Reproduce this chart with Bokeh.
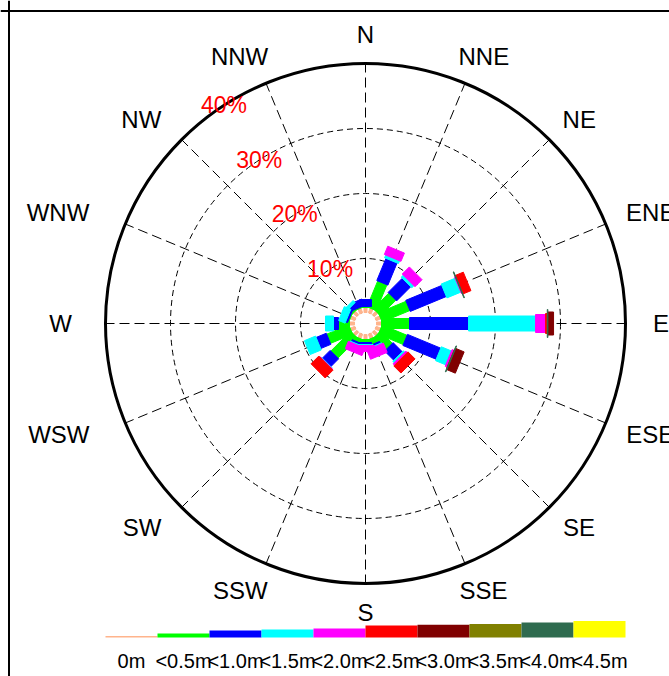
import numpy as np
from bokeh.plotting import figure
from bokeh.models import Range1d, Span, ColumnDataSource
from bokeh.embed import file_html
from bokeh.resources import INLINE
from bokeh.core.properties import value

# ---------------- data (percent of time) ----------------
directions = ["N", "NNE", "NE", "ENE", "E", "ESE", "SE", "SSE",
              "S", "SSW", "SW", "WSW", "W", "WNW", "NW", "NNW"]
bin_labels = ["0m", "<0.5m", "<1.0m", "<1.5m", "<2.0m",
              "<2.5m", "<3.0m", "<3.5m", "<4.0m", "<4.5m"]
bin_colors = ["#FFB48C", "#00FF00", "#0000FF", "#00FFFF", "#FF00FF",
              "#FF0000", "#800000", "#808000", "#2F6B4F", "#FFFF00"]

s_0m  = [0.77, 0.77, 0.77, 0.77, 0.77, 0.77, 0.77, 0.77, 0.77, 0.77, 0.77, 0.77, 0.77, 0.77, 0.77, 0.77]
s_05  = [0.15, 4.31, 3.38, 4.62, 4.31, 4.15, 2.62, 0.92, 0.46, 0.62, 4.31, 3.69, 1.69, 0.15, 0.31, 0.15]
s_10  = [1.08, 3.69, 3.08, 6.00, 9.08, 5.54, 2.00, 0.31, 0.31, 0.31, 1.69, 1.69, 0.77, 0.31, 0.62, 1.08]
s_15  = [0.00, 0.46, 0.46, 2.31, 10.31, 1.69, 0.31, 0.15, 0.15, 0.15, 0.08, 1.85, 1.23, 1.08, 0.46, 0.00]
s_20  = [0.00, 1.38, 1.54, 0.15, 1.54, 0.31, 0.31, 1.54, 0.92, 1.23, 0.08, 0.00, 0.00, 0.00, 0.00, 0.00]
s_25  = [0.00, 0.00, 0.00, 1.38, 0.31, 0.08, 1.54, 0.00, 0.00, 0.00, 1.69, 0.00, 0.00, 0.00, 0.00, 0.00]
s_30  = [0.00, 0.00, 0.00, 0.00, 0.92, 1.46, 0.00, 0.00, 0.00, 0.00, 0.00, 0.00, 0.00, 0.00, 0.00, 0.00]
s_35  = [0.00] * 16
s_40  = [0.00] * 16
s_45  = [0.00] * 16
# trace of the <4.0m class (drawn as a thin line) per direction
trace_40 = [0, 0, 0, 1, 1, 1, 0, 0, 0, 0, 0, 0, 0, 0, 0, 0]

series = [s_0m, s_05, s_10, s_15, s_20, s_25, s_30, s_35, s_40, s_45]
ring_values = [10, 20, 30]
outer_value = 40
ring_labels = ["10%", "20%", "30%", "40%"]

# ---------------- layout / style ----------------
K = 6.5            # pixels per percent
W, H = 669, 676    # canvas
CX, CY = 365, 323  # rose centre on canvas (pixels)
R0 = 11 / K        # inner hole radius (percent units)
bar_w_px = [3, 10, 12, 15, 18, 20, 23, 25, 28, 30]
leg_h_px = [1.5, 4, 7, 8, 9, 12, 12.7, 13.4, 15, 16.5]
FONT = value("Liberation Sans")

p = figure(width=W, height=H, output_backend="svg", toolbar_location=None,
           x_range=Range1d(-CX / K, (W - CX) / K),
           y_range=Range1d(-(H - CY) / K, CY / K),
           x_axis_location=None, y_axis_location=None, min_border=0)
p.grid.visible = False
p.outline_line_color = None
p.background_fill_color = "white"
p.border_fill_color = "white"

# frame (only left and top edges are inside the window)
p.add_layout(Span(location=-CX / K + 8.5 / K, dimension="height",
                  line_color="black", line_width=2))
p.add_layout(Span(location=CY / K - 10.5 / K, dimension="width",
                  line_color="black", line_width=2))

# grid: dashed rings, radial lines, outer circle
bearings = np.deg2rad(np.arange(16) * 22.5)
for rv in ring_values:
    p.ellipse(x=0, y=0, width=2 * rv, height=2 * rv, fill_color=None,
              line_color="black", line_width=1, line_dash="6 4")
xs = [[R0 * np.sin(b), outer_value * np.sin(b)] for b in bearings]
ys = [[R0 * np.cos(b), outer_value * np.cos(b)] for b in bearings]
p.multi_line(xs, ys, line_color="black", line_width=1, line_dash="10 5")
p.ellipse(x=0, y=0, width=2 * outer_value, height=2 * outer_value,
          fill_color=None, line_color="black", line_width=3)

# bars (paddles)
rx, ry, rlen, rwid, rang, rcol = [], [], [], [], [], []
cum = np.full(16, R0)
last_start = np.full(16, R0)
for j, s in enumerate(series):
    for i in range(16):
        v = s[i]
        if v <= 0:
            continue
        rc = cum[i] + v / 2
        b = bearings[i]
        rx.append(rc * np.sin(b)); ry.append(rc * np.cos(b))
        rlen.append(v); rwid.append(bar_w_px[j] / K)
        rang.append(np.pi / 2 - b); rcol.append(bin_colors[j])
        last_start[i] = cum[i]
        cum[i] += v
src = ColumnDataSource(dict(x=rx, y=ry, w=rlen, h=rwid, a=rang, c=rcol))
p.rect(x="x", y="y", width="w", height="h", angle="a", fill_color="c",
       line_color="c", line_width=1, source=src)

# thin <4.0m trace
tx, ty, ta = [], [], []
for i in range(16):
    if trace_40[i]:
        b = bearings[i]
        tx.append(last_start[i] * np.sin(b)); ty.append(last_start[i] * np.cos(b))
        ta.append(np.pi / 2 - b)
p.rect(x=tx, y=ty, width=0.6 / K, height=bar_w_px[8] / K, angle=ta,
       fill_color=bin_colors[8], line_color=bin_colors[8], line_width=1)

# direction labels
char_w = {"N": 0.722, "E": 0.667, "S": 0.667, "W": 0.944}
fs = 24
lx, ly = [], []
for d, b in zip(directions, bearings):
    tw = sum(char_w[c] for c in d) * fs / K
    rl = 289 / K
    f = 0.4 if np.sin(b) >= 0 else 0.7
    lx.append((rl + f * tw) * np.sin(b))
    ly.append(rl * np.cos(b))
p.text(x=lx, y=ly, text=directions, text_align="center", text_baseline="middle",
       text_font=FONT, text_font_size=f"{fs}px", text_color="black")

# ring labels
lab_b = np.deg2rad(327)
rvals = ring_values + [outer_value]
p.text(x=[r * np.sin(lab_b) for r in rvals], y=[r * np.cos(lab_b) for r in rvals],
       text=ring_labels, text_align="center", text_baseline="middle",
       text_font=FONT, text_font_size="23px", text_color="#FF0000")

# legend
n = len(bin_labels)
seg = 2 * outer_value / n
left = [-outer_value + seg * j for j in range(n)]
right = [l + seg for l in left]
bottom_y = -314 / K
p.quad(left=left, right=right, bottom=bottom_y,
       top=[bottom_y + h / K for h in leg_h_px], fill_color=bin_colors,
       line_color=None)
p.text(x=[l + seg / 2 for l in left], y=-337 / K, text=bin_labels,
       text_align="center", text_baseline="middle", text_font=FONT,
       text_font_size="20px", text_color="black")

open("out.html", "w").write(file_html(p, INLINE))
